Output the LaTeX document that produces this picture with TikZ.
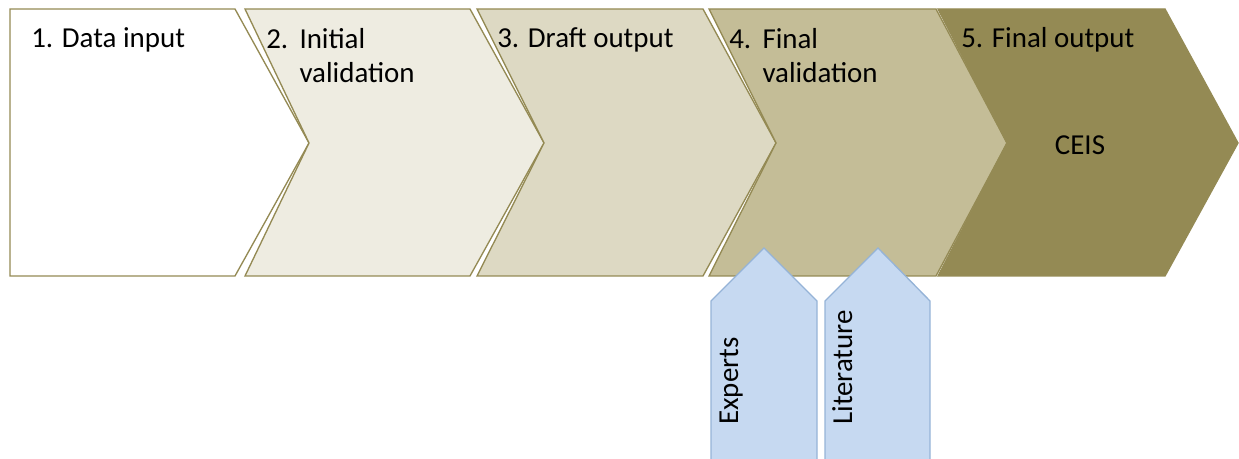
\documentclass[tikz,border=0pt]{standalone}
\usepackage{fontspec}
\setmainfont{Carlito}

\begin{document}
\begin{tikzpicture}[x=0.75pt,y=0.75pt,yscale=-1,xscale=1,
  chev/.style={draw={rgb, 255:red, 148; green, 138; blue, 84 }, line width=1pt},
  side/.style={draw={rgb, 255:red, 149; green, 179; blue, 215 }, fill={rgb, 255:red, 198; green, 217; blue, 241 }, line width=1pt},
  stagetext/.style={anchor=base west, inner sep=0pt, align=left, font=\fontsize{21.7pt}{26.2pt}\selectfont}]
\useasboundingbox (0,0) rectangle (1239,459);
\clip (0,0) rectangle (1239,459);

%Shape: Chevron 1 (plain pentagon)
\draw  [chev][fill={rgb, 255:red, 255; green, 255; blue, 255 }] (10,9) -- (235,9) -- (309,143) -- (235,276) -- (10,276) -- cycle ;
%Shape: Chevron 2
\draw  [chev][fill={rgb, 255:red, 238; green, 236; blue, 225 }] (245,9) -- (470,9) -- (544,143) -- (470,276) -- (245,276) -- (309,143) -- cycle ;
%Shape: Chevron 3
\draw  [chev][fill={rgb, 255:red, 221; green, 217; blue, 195 }] (477,9) -- (703,9) -- (776,143) -- (703,276) -- (477,276) -- (544,143) -- cycle ;
%Shape: Chevron 4
\draw  [chev][fill={rgb, 255:red, 196; green, 189; blue, 151 }] (709,9) -- (936,9) -- (1007,143) -- (936,276) -- (709,276) -- (776,143) -- cycle ;
%Shape: Chevron 5
\draw  [chev][fill={rgb, 255:red, 148; green, 138; blue, 84 }] (938,9) -- (1165,9) -- (1238,143) -- (1165,276) -- (938,276) -- (1007,143) -- cycle ;

%Shape: Up arrow (experts)
\draw  [side] (711,470) -- (711,301) -- (764,248) -- (817,301) -- (817,470) -- cycle ;
%Shape: Up arrow (literature)
\draw  [side] (825,470) -- (825,301) -- (878,248) -- (930,301) -- (930,470) -- cycle ;

% Text Node (base sits on the last line)
\draw (31,48) node (input) [stagetext] {1. Data input};
% Text Node
\draw (266,83) node (initval) [stagetext] {\makebox[1.15em][l]{2.}Initial\\\hspace*{1.15em}validation};
% Text Node
\draw (497,48) node (draft) [stagetext] {3. Draft output};
% Text Node
\draw (729,83) node (finalval) [stagetext] {\makebox[1.15em][l]{4.}Final\\\hspace*{1.15em}validation};
% Text Node
\draw (961,48) node (output) [stagetext] {5. Final output};
% Text Node
\draw (1080,155) node (ceis) [stagetext, anchor=base] {CEIS};
% Text Node
\draw (738,425) node (experts) [stagetext, rotate=90] {Experts};
% Text Node
\draw (852,425) node (literature) [stagetext, rotate=90] {Literature};

\end{tikzpicture}
\end{document}
